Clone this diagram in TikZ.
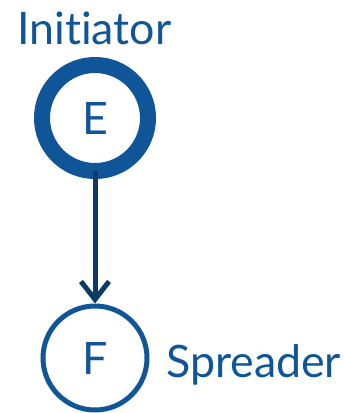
\documentclass[tikz,border=0pt]{standalone}
\usepackage{fontspec}
\setmainfont{Lato}[Ligatures=NoCommon]
\usetikzlibrary{arrows.meta}
\definecolor{nodeblue}{HTML}{0F5597}
\definecolor{edgeblue}{HTML}{0C3A66}
\begin{document}
\begin{tikzpicture}[x=1pt,y=-1pt,
  every node/.style={text=nodeblue, font=\fontsize{44.7}{50}\selectfont},
  person/.style={circle, draw=nodeblue, inner sep=0pt, minimum size=104pt},
  initiator/.style={person, line width=16pt, minimum size=106pt},
  spreader/.style={person, line width=5pt},
  role/.style={anchor=base west, inner sep=0pt},
  edge/.style={draw=edgeblue, line width=5pt, -{Straight Barb[length=18pt, width=28pt]}}
]
\useasboundingbox (0,0) rectangle (344,413);
\node[initiator] (E) at (95,118) {E};
\node[spreader] (F) at (95,358) {F};
\node[role] (initlabel) at (17,44) {Initiator};
\node[role] (spreadlabel) at (166,377) {Spreader};
\draw[edge, shorten <=-8pt] (E.south) -- (F.north);
\end{tikzpicture}
\end{document}
